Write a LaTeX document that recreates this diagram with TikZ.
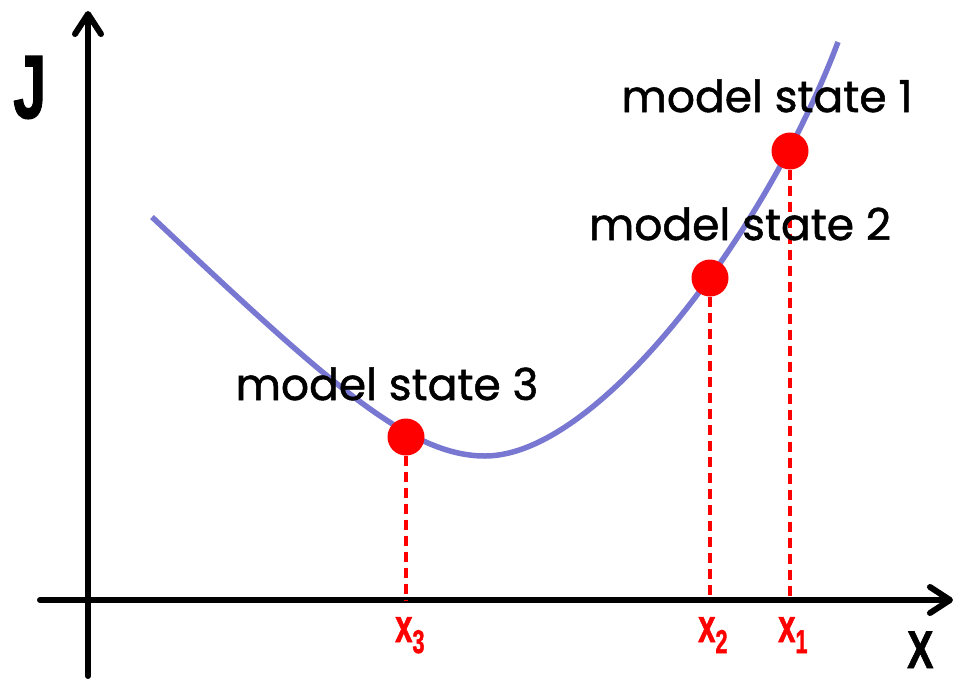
\documentclass[tikz,border=0pt]{standalone}
\usepackage{fontspec}
\setmainfont{Poppins}
\newfontfamily\statefont{Poppins}[FakeBold=1.2]
\newfontfamily\lblfont{Liberation Sans}[FakeBold=1.5]
\usetikzlibrary{arrows.meta}
\definecolor{curveblue}{RGB}{120,120,210}
\definecolor{dotred}{RGB}{255,0,0}
\tikzset{
  axisline/.style={line width=6pt, line cap=round, -{Straight Barb[length=20pt,width=26pt,round]}},
  curveline/.style={draw=curveblue, line width=5.5pt},
  dropline/.style={draw=dotred, line width=3.2pt, dash pattern=on 10pt off 6pt},
  statedot/.style={circle, fill=dotred, minimum size=37pt, inner sep=0pt},
  statelbl/.style={anchor=base, inner sep=0pt, font=\statefont\fontsize{44}{50}\selectfont},
  xlbl/.style={anchor=base west, inner sep=0pt, text=dotred},
  axlbl/.style={anchor=base west, inner sep=0pt}
}
\newcommand{\xsub}[1]{\scalebox{0.66}[1]{\lblfont\bfseries{\fontsize{47}{47}\selectfont x}{\fontsize{33}{33}\selectfont\raisebox{-11pt}{#1}}}}
\begin{document}
\begin{tikzpicture}[x=1pt,y=-1pt]
\useasboundingbox (0,0) rectangle (958,678);
% axes
\coordinate (ybot) at (88,676);
\coordinate (ytop) at (88,11);
\coordinate (xl) at (40,600);
\coordinate (xr) at (953,600);
\coordinate (o) at (88,600);
\draw[axisline] (ybot) -- (ytop);
\draw[axisline] (xl) -- (xr);
% curve
\draw[curveline] (152,217) .. controls (330,385) and (410,456) .. (485,456)
  .. controls (600,456) and (768,228) .. (838,42);
% dots
\node[statedot] (d1) at (790,151) {};
\node[statedot] (d2) at (710,278) {};
\node[statedot] (d3) at (406,437) {};
\coordinate (f1) at (d1 |- o);
\coordinate (f2) at (d2 |- o);
\coordinate (f3) at (d3 |- o);
\draw[dropline] (d1.south) -- (f1);
\draw[dropline] (d2.south) -- (f2);
\draw[dropline] (d3.south) -- (f3);
% labels
\node[statelbl] (s1) at (767,112) {model state 1};
\node[statelbl] (s2) at (740,240) {model state 2};
\node[statelbl] (s3) at (387,400) {model state 3};
\node[xlbl] (x3) at (395,642) {\xsub{3}};
\node[xlbl] (x2) at (698,642) {\xsub{2}};
\node[xlbl] (x1) at (778,642) {\xsub{1}};
\node[axlbl] (J) at (13,118) {\scalebox{0.66}[1]{\lblfont\bfseries\fontsize{90}{90}\selectfont J}};
\node[axlbl] (X) at (907,668) {\scalebox{0.74}[1]{\lblfont\bfseries\fontsize{53}{53}\selectfont X}};
\end{tikzpicture}
\end{document}
